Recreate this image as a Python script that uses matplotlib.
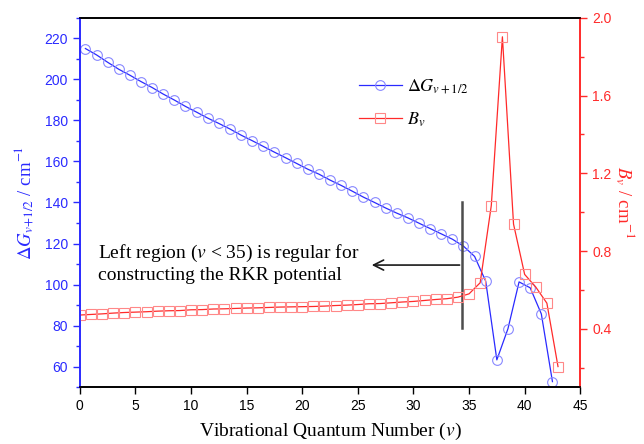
import matplotlib
matplotlib.use("Agg")
import matplotlib.pyplot as plt
import numpy as np
from matplotlib.ticker import MultipleLocator

# Delta G_{v+1/2} at v + 1/2
v_dg = np.arange(43) + 0.5
dg = [215.0, 211.9, 208.3, 204.9, 202.0, 198.9, 196.0, 192.8, 189.9, 186.8,
      184.0, 181.1, 178.5, 175.8, 172.8, 170.1, 167.3, 164.5, 161.8, 159.0,
      156.2, 153.8, 150.9, 148.3, 145.5, 142.6, 140.0, 137.3, 134.8, 132.5,
      129.9, 127.3, 124.7, 122.1, 118.7, 113.7, 101.6, 63.3, 78.5, 101.3,
      98.4, 85.7, 52.7]

# B_v at integer v
v_b = np.arange(44)
bv = [0.471, 0.474, 0.477, 0.481, 0.484, 0.486, 0.488, 0.491, 0.493, 0.494,
      0.498, 0.499, 0.502, 0.503, 0.505, 0.507, 0.508, 0.510, 0.512, 0.513,
      0.514, 0.515, 0.517, 0.520, 0.522, 0.525, 0.529, 0.530, 0.534, 0.538,
      0.541, 0.546, 0.551, 0.555, 0.563, 0.580, 0.637, 1.034, 1.902, 0.939,
      0.680, 0.615, 0.532, 0.206]

blue = "#2a2aff"
red = "#ff2a2a"
serif = "Liberation Serif"
sans = "Liberation Sans"
plt.rcParams["mathtext.fontset"] = "stix"

fig = plt.figure(figsize=(6.44, 4.44), dpi=100)
ax = fig.add_axes([0.124, 0.128, 0.777, 0.832])
ax2 = ax.twinx()

l1, = ax.plot(v_dg, dg, color=blue, lw=0.9, marker="o", ms=7, mfc="none",
              mec="#8888ff", mew=0.8)
l2, = ax2.plot(v_b, bv, color=red, lw=0.9, marker="s", ms=6.5, mfc="none",
               mec="#ff8888", mew=0.8)

ax.set_xlim(0, 45)
ax.set_ylim(50, 230)
ax2.set_ylim(0.1, 2.0)

ax.xaxis.set_major_locator(MultipleLocator(5))
ax.yaxis.set_major_locator(MultipleLocator(20))
ax.yaxis.set_minor_locator(MultipleLocator(10))
ax2.yaxis.set_minor_locator(MultipleLocator(0.2))
ax2.set_yticks(np.arange(0.4, 2.01, 0.4))

ax.tick_params(axis="x", direction="out", length=5, width=1, labelsize=10,
               colors="black")
ax.tick_params(axis="y", which="both", direction="out", colors=blue, width=1,
               labelsize=10)
ax.tick_params(axis="y", which="major", length=5)
ax.tick_params(axis="y", which="minor", length=3)
ax2.tick_params(axis="y", which="both", direction="out", colors=red, width=1,
                labelsize=10)
ax2.tick_params(axis="y", which="major", length=5)
ax2.tick_params(axis="y", which="minor", length=3)
for lab in ax.get_xticklabels() + ax.get_yticklabels() + ax2.get_yticklabels():
    lab.set_fontfamily(sans)

for a in (ax, ax2):
    a.spines["left"].set_color(blue)
    a.spines["right"].set_color(red)
    a.spines["top"].set_color("black")
    a.spines["bottom"].set_color("black")
    for s in a.spines.values():
        s.set_linewidth(1.2)

ax.set_xlabel(r"Vibrational Quantum Number ($v$)", fontsize=14,
              fontfamily=serif, labelpad=6)
ax.set_ylabel(r"$\Delta G_{v\!+\!1/2}$ / cm$^{-1}$", fontsize=13.5,
              fontfamily=serif, color=blue, labelpad=6)
ax2.set_ylabel(r"$B_v$ / cm$^{-1}$", fontsize=13.5, fontfamily=serif,
               color=red, rotation=270, labelpad=18)

# annotation
ax.plot([34.4, 34.4], [79, 140], color="0.3", lw=1.8)
ax.annotate("", xy=(26.0, 109.5), xytext=(34.4, 109.5),
            arrowprops=dict(arrowstyle="->", lw=1.2, color="0.1",
                            mutation_scale=18))
ax.text(1.6, 120.5, "Left region ($v$ < 35) is regular for\nconstructing the RKR potential",
        fontsize=14, fontfamily=serif, va="top", ha="left", linespacing=1.25)

leg = fig.legend([l1, l2], [r"$\Delta G_{v+1/2}$", r"$B_v$"],
                 loc="upper left", bbox_to_anchor=(0.557, 0.825),
                 frameon=False, handlelength=2.4, handletextpad=0.25,
                 borderpad=0, borderaxespad=0, labelspacing=0.8,
                 prop={"family": serif, "size": 13})

fig.savefig("out.png", dpi=100)
